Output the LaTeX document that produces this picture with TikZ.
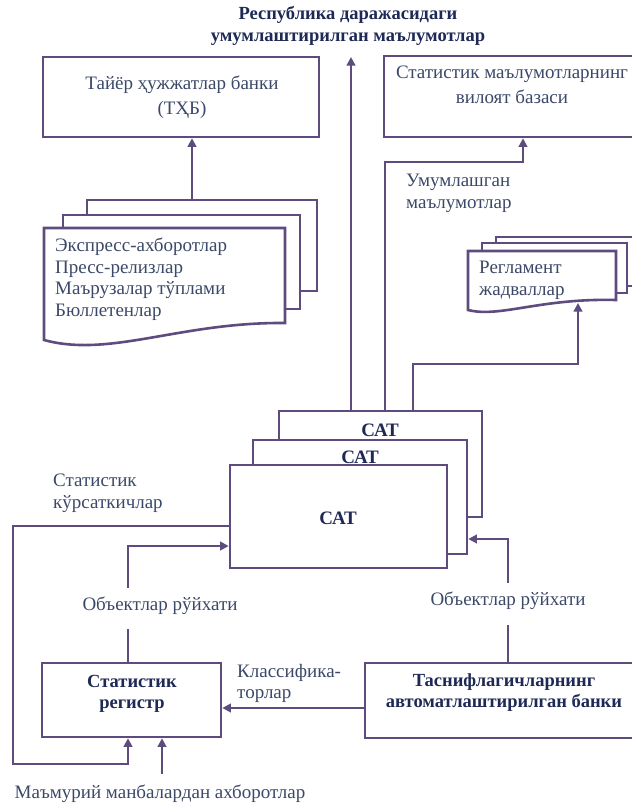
\documentclass[tikz,border=0pt]{standalone}
\usepackage{fontspec}
\setmainfont{Liberation Serif}
\newfontfamily\serf{Liberation Serif}
\usetikzlibrary{arrows.meta}
\definecolor{ln}{HTML}{5E4C7E}
\definecolor{tx}{HTML}{3B4868}
\definecolor{bt}{HTML}{1E2A55}
\begin{document}
\begin{tikzpicture}[x=1pt,y=1pt,
  line/.style={draw=ln, line width=2.6pt},
  arr/.style={line, -{Triangle[length=8.5pt,width=8.5pt]}},
  box/.style={draw=ln, line width=2.6pt, fill=white, rectangle, inner sep=0pt},
  txt/.style={text=tx, font=\serf\fontsize{19}{21.5}\selectfont, align=left, inner sep=0pt},
  ctxt/.style={text=tx, font=\serf\fontsize{19}{24.5}\selectfont, align=center, inner sep=0pt},
  btxt/.style={text=bt, font=\serf\fontsize{18.5}{21}\selectfont\bfseries, align=center, inner sep=0pt}]
\useasboundingbox (0,0) rectangle (632,-804);
\clip (0,0) rectangle (632,-804);

% title
\node[btxt, font=\serf\fontsize{18.5}{22}\selectfont\bfseries] (title) at (348,-26) {Республика даражасидаги\\умумлаштирилган маълумотлар};

% top boxes
\node[box, minimum width=276pt, minimum height=80pt] (txb) at (181,-97) {};
\node[ctxt] (txbt) at (182,-97) {Тайёр ҳужжатлар банки\\(ТҲБ)};
\node[box, minimum width=256pt, minimum height=81pt] (vil) at (512,-96.5) {};
\node[ctxt] (vilt) at (512,-85) {Статистик маълумотларнинг\\вилоят базаси};

% document stack (left)
\filldraw[line, fill=white] (87,-200) rectangle (317,-291);
\filldraw[line, fill=white] (63,-215) rectangle (300,-309);
\filldraw[line, fill=white] (44,-228) -- (285,-228) -- (285,-323)
  .. controls (180,-322) and (110,-358) .. (44,-340) -- cycle;
\coordinate (docs) at (192,-200);
\node[txt, anchor=north west] (doct) at (55,-238) {Экспресс-ахборотлар\\Пресс-релизлар\\Маърузалар тўплами\\Бюллетенлар};

% document stack (right)
\filldraw[line, fill=white] (496,-237) rectangle (650,-286);
\filldraw[line, fill=white] (482,-243) rectangle (627,-293);
\filldraw[line, fill=white] (468,-251) -- (616,-251) -- (616,-300)
  .. controls (540,-298) and (500,-318) .. (468,-310) -- cycle;
\coordinate (regl) at (578,-303);
\node[txt, anchor=north west] (reglt) at (479,-261) {Регламент\\жадваллар};

% SAT stack
\node[box, minimum width=203pt, minimum height=106pt] (sat3) at (380.5,-464) {};
\node[btxt, font=\serf\fontsize{19}{21}\selectfont\bfseries] (sat3t) at (380,-430) {САТ};
\node[box, minimum width=214pt, minimum height=114pt] (sat2) at (360,-497) {};
\node[btxt, font=\serf\fontsize{19}{21}\selectfont\bfseries] (sat2t) at (360,-457) {САТ};
\node[box, minimum width=217pt, minimum height=103pt] (sat1) at (338.5,-516.5) {};
\node[btxt, font=\serf\fontsize{19}{21}\selectfont\bfseries] (sat1t) at (338,-518) {САТ};

% bottom boxes
\node[box, minimum width=179pt, minimum height=74pt] (reg) at (131.5,-700) {};
\node[btxt] (regt) at (132,-694) {Статистик\\регистр};
\node[box, minimum width=285pt, minimum height=75pt] (tas) at (507.5,-700.5) {};
\node[btxt] (tast) at (504,-693) {Таснифлагичларнинг\\автоматлаштирилган банки};

% labels
\node[txt, anchor=north west] (uml) at (406,-174) {Умумлашган\\маълумотлар};
\node[txt, anchor=north west] (skl) at (53,-474) {Статистик\\кўрсаткичлар};
\node[txt, anchor=north west] (kls) at (237,-664) {Классифика-\\торлар};
\node[txt, anchor=center] (obl) at (160,-606) {Объектлар рўйхати};
\node[txt, anchor=center] (obr) at (508,-601) {Объектлар рўйхати};
\node[txt, anchor=center] (adm) at (160,-794) {Маъмурий манбалардан ахборотлар};

% connectors
\coordinate (tt) at (351,-57);
\draw[arr] (sat3.north -| tt) -- (tt);
\draw[arr] (docs) -- (docs |- txb.south);
\coordinate (vk) at (385,-162);
\draw[arr] (sat3.north -| vk) -- (vk) -| (vil.south -| 523,0);
\coordinate (rk) at (413,-364);
\draw[arr] (sat3.north -| rk) -- (rk) -| (regl);
% feedback to register
\coordinate (fb) at (13,-764);
\draw[arr] (sat1.west |- 0,-526) -| (fb) -| (reg.south -| 128,0);
% object lists
\draw[line] (reg.north -| 128,0) -- (128,-629);
\draw[arr] (128,-588) |- (sat1.west |- 0,-546);
\draw[line] (tas.north -| 508,0) -- (508,-625);
\draw[arr] (508,-583) |- (sat2.east |- 0,-539);
% classifier
\draw[arr] (tas.west |- 0,-708) -- (reg.east |- 0,-708);
% admin
\coordinate (ad) at (162,-774);
\draw[arr] (ad) -- (ad |- reg.south);
\end{tikzpicture}
\end{document}
